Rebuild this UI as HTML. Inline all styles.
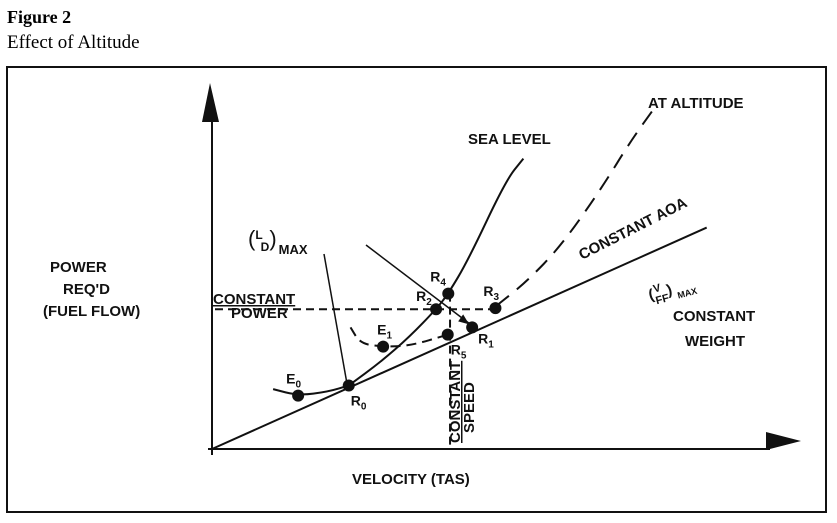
<!DOCTYPE html>
<html><head><meta charset="utf-8"><style>
html,body{margin:0;padding:0;background:#fff;}
svg{display:block;font-family:"Liberation Sans",Arial,sans-serif;}
.t{font-weight:bold;font-size:15px;fill:#111;}
</style></head><body>
<svg id="fig" width="837" height="523" viewBox="0 0 837 523">
<text x="7" y="23" font-family="Liberation Serif" font-weight="bold" font-size="18">Figure 2</text>
<text x="7" y="48" font-family="Liberation Serif" font-size="19">Effect of Altitude</text>
<rect x="7" y="67" width="819" height="445" fill="none" stroke="#111" stroke-width="2"/>
<g id="marks" stroke="#111" fill="none" stroke-width="2"></g>
<g class="t">
<text x="213" y="304" font-size="13" class="t" text-decoration="underline">CONSTANT</text>
<text x="231" y="318" font-size="13" class="t">POWER</text>
<text x="50" y="272" font-size="16" class="t">POWER</text>
<text x="63" y="294" font-size="16" class="t">REQ'D</text>
<text x="43" y="316" font-size="16" class="t">(FUEL FLOW)</text>
<text x="352" y="484" font-size="16" class="t">VELOCITY (TAS)</text>
<text x="468" y="144" font-size="16" class="t">SEA LEVEL</text>
<text x="648" y="108" font-size="16" class="t">AT ALTITUDE</text>
<text x="673" y="321" font-size="16" class="t">CONSTANT</text>
<text x="685" y="346" font-size="16" class="t">WEIGHT</text>
<text x="0" y="0" font-size="13" class="t" transform="translate(582,260) rotate(-27)">CONSTANT AOA</text>
<text x="0" y="0" font-size="14" class="t" transform="translate(650,300) rotate(-15)">(<tspan dx="1" dy="-6" font-size="11">V</tspan><tspan dx="-8" dy="12" font-size="11">FF</tspan><tspan dy="-6">)</tspan><tspan dx="4" dy="6" font-size="9">MAX</tspan></text>
<text x="248" y="246" font-size="22" font-weight="normal">(<tspan font-size="12" font-weight="bold" dy="-7">L</tspan><tspan font-size="12" font-weight="bold" dx="-2" dy="12">D</tspan><tspan dy="-5">)</tspan><tspan font-size="13" font-weight="bold" dx="2" dy="8">MAX</tspan></text>
<text x="0" y="0" font-size="13" class="t" transform="translate(460,443) rotate(-90)" text-decoration="underline">CONSTANT</text>
<text x="0" y="0" font-size="13" class="t" transform="translate(474,433) rotate(-90)">SPEED</text>
</g>
<g id="pts"></g>
</svg>
<script>
// diagram data (chart units: velocity 0..100, power 0..100)
const pointNames = ["E0","R0","E1","R5","R1","R2","R4","R3"];
const pointV = [14.8,23.5,29.4,40.5,44.7,38.5,40.6,48.7];
const pointP = [14.7,17.5,28.2,31.5,33.5,38.5,42.8,38.8];
const labelDx = [-12,2,-6,3,6,-20,-18,-12];
const labelDy = [-12,20,-12,20,16,-8,-12,-12];
const seaV = [23.5,29,34,38.5,40.6,44,50.5,53.5];
const seaP = [17.5,24,31,38.5,42.8,52,74,80];
const altV = [48.9,54,60,67,72,76.5];
const altP = [39.5,46,56,72,85,95];
const e0V=[10.5,14.8,20,23.5], e0P=[16.5,14.7,15.8,17.5];
const e1V=[23.8,25.5,29.4,34,40.5], e1P=[33.5,29,28.2,28.4,31.5];
const aoaV=[0,85], aoaP=[0,61];
const powerLevel = 38.5, speedLevel = 40.9;

const X0=212, Y0=449, SX=5.82, SY=3.63;
const x = v => X0 + v*SX, y = p => Y0 - p*SY;
const NS="http://www.w3.org/2000/svg";
const g=document.getElementById('marks'), pg=document.getElementById('pts');
function el(tag,attrs,parent){const e=document.createElementNS(NS,tag);for(const k in attrs)e.setAttribute(k,attrs[k]);(parent||g).appendChild(e);return e;}
function curve(vs,ps){let d="M"+x(vs[0])+","+y(ps[0]);for(let i=1;i<vs.length;i++){const xm=(x(vs[i-1])+x(vs[i]))/2;d+=" Q"+x(vs[i-1])+","+y(ps[i-1])+" "+xm+","+(y(ps[i-1])+y(ps[i]))/2;}d+=" T"+x(vs[vs.length-1])+","+y(ps[ps.length-1]);return d;}
let a=el('line',{x1:X0,y1:Y0+6,x2:X0,y2:120});


a=el('polygon',{points:"210,83 202,122 219,122",fill:"#111",stroke:"none"});


a=el('line',{x1:X0-4,y1:Y0,x2:770,y2:Y0});


a=el('polygon',{points:"801,441 766,432 766,450",fill:"#111",stroke:"none"});


a=el('line',{x1:x(aoaV[0]),y1:y(aoaP[0]),x2:x(aoaV[1]),y2:y(aoaP[1])});


a=el('path',{d:curve(seaV,seaP)});


a=el('path',{d:curve(altV,altP),'stroke-dasharray':'16,10'});


a=el('path',{d:curve(e0V,e0P)});


a=el('path',{d:curve(e1V,e1P),'stroke-dasharray':'10,6'});


a=el('line',{x1:X0+3,y1:y(powerLevel),x2:x(pointV[7]),y2:y(powerLevel),'stroke-dasharray':'8,5'});


a=el('line',{x1:x(speedLevel),y1:y(pointP[6]),x2:x(speedLevel),y2:Y0,'stroke-dasharray':'8,5'});


a=el('line',{x1:324,y1:254,x2:x(pointV[1])-2,y2:y(pointP[1])-3,'stroke-width':1.5});


a=el('line',{x1:366,y1:245,x2:x(pointV[4])-3,y2:y(pointP[4])-4,'stroke-width':1.5});


a=el('polygon',{points:(x(pointV[4])-3)+","+(y(pointP[4])-3)+" "+(x(pointV[4])-14)+","+(y(pointP[4])-6)+" "+(x(pointV[4])-9)+","+(y(pointP[4])-13),fill:"#111",stroke:"none"});


for(let i=0;i<pointNames.length;i++){
  const c=el('circle',{cx:x(pointV[i]),cy:y(pointP[i]),r:6,fill:"#111",stroke:"none"},pg);
  
  
  const t=el('text',{x:x(pointV[i])+labelDx[i],y:y(pointP[i])+labelDy[i],'font-size':14,'font-weight':'bold',fill:'#111'},pg);
  
  
  t.textContent=pointNames[i][0];
  const s=el('tspan',{'font-size':10,dy:4},t);
  s.textContent=pointNames[i].slice(1);
}
</script>
</body></html>
